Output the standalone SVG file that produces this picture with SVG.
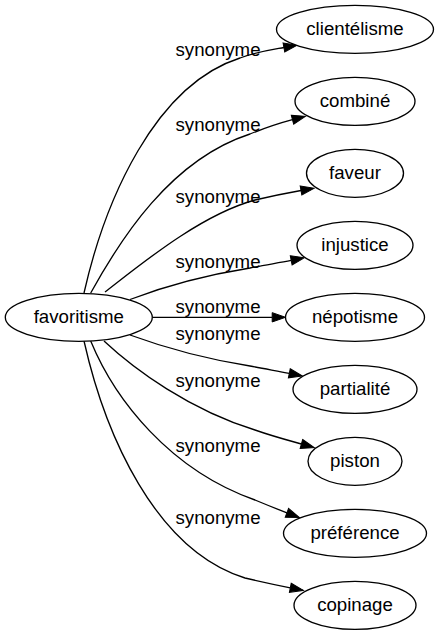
<svg xmlns="http://www.w3.org/2000/svg" width="438" height="635" viewBox="0 0 438 635">
<style>
.n ellipse{fill:#fff;stroke:#000;stroke-width:1.33}
.n text,.lbl{font-family:"Liberation Sans",Arial,sans-serif;font-size:18.67px;text-anchor:middle;fill:#000}
.e path{fill:none;stroke:#000;stroke-width:1.33}
</style>
<defs>
<marker id="arr" markerUnits="userSpaceOnUse" markerWidth="14" markerHeight="10" refX="0" refY="4.67" orient="auto" overflow="visible">
<path d="M0,0 L13.3,4.67 L0,9.33 z" fill="#000" stroke="#000" stroke-width="1"/>
</marker>
</defs>
<rect width="438" height="635" fill="#fff"/>
<g id="edges" class="e">
<path marker-end="url(#arr)" d="M84,293 C105,200 155,85 240,58 C256,52 270,50 283.9,47.5"/>
<path marker-end="url(#arr)" d="M90.7,293 C120,240 170,160 250,134 C265,128 280,123 292.5,119.7"/>
<path marker-end="url(#arr)" d="M105,292 C140,265 200,215 255,200 C272,196 287,193 301,190.5"/>
<path marker-end="url(#arr)" d="M130,299.5 C160,288 200,276 250,268 C265,265 278,263 291.2,260.4"/>
<path marker-end="url(#arr)" d="M152.3,317.3 L272.2,317.3"/>
<path marker-end="url(#arr)" d="M130,335 C160,346 200,358 250,366 C265,369 278,371 289.3,373.3"/>
<path marker-end="url(#arr)" d="M104,341 C135,370 190,410 255,430 C272,436 287,440 301.4,444"/>
<path marker-end="url(#arr)" d="M90.7,341 C115,400 170,470 255,500 C267,505 277,509 286.9,512.8"/>
<path marker-end="url(#arr)" d="M84,341 C105,434 155,550 245,578 C262,582 276,585 290.3,587.8"/>
<text class="lbl" x="218" y="56">synonyme</text>
<text class="lbl" x="218" y="131">synonyme</text>
<text class="lbl" x="218" y="203">synonyme</text>
<text class="lbl" x="218" y="268">synonyme</text>
<text class="lbl" x="218" y="312.5">synonyme</text>
<text class="lbl" x="218" y="340">synonyme</text>
<text class="lbl" x="218" y="387">synonyme</text>
<text class="lbl" x="218" y="452">synonyme</text>
<text class="lbl" x="218" y="524">synonyme</text>
</g>
<g id="favoritisme" class="n"><ellipse cx="78.8" cy="317.3" rx="73.5" ry="24"/><text x="78.8" y="323.3">favoritisme</text></g>
<g id="clientelisme" class="n"><ellipse cx="355" cy="29.3" rx="78.5" ry="24"/><text x="355" y="35.3">clientélisme</text></g>
<g id="combine" class="n"><ellipse cx="355" cy="101.3" rx="60" ry="24"/><text x="355" y="107.3">combiné</text></g>
<g id="faveur" class="n"><ellipse cx="355" cy="173.3" rx="48.5" ry="24"/><text x="355" y="179.3">faveur</text></g>
<g id="injustice" class="n"><ellipse cx="355" cy="245.3" rx="58" ry="24"/><text x="355" y="251.3">injustice</text></g>
<g id="nepotisme" class="n"><ellipse cx="355" cy="317.3" rx="69.5" ry="24"/><text x="355" y="323.3">népotisme</text></g>
<g id="partialite" class="n"><ellipse cx="355" cy="389.3" rx="62" ry="24"/><text x="355" y="395.3">partialité</text></g>
<g id="piston" class="n"><ellipse cx="355" cy="461.3" rx="47" ry="24"/><text x="355" y="467.3">piston</text></g>
<g id="preference" class="n"><ellipse cx="355" cy="533.3" rx="71.5" ry="24"/><text x="355" y="539.3">préférence</text></g>
<g id="copinage" class="n"><ellipse cx="355" cy="605.3" rx="61" ry="24"/><text x="355" y="611.3">copinage</text></g>
</svg>
